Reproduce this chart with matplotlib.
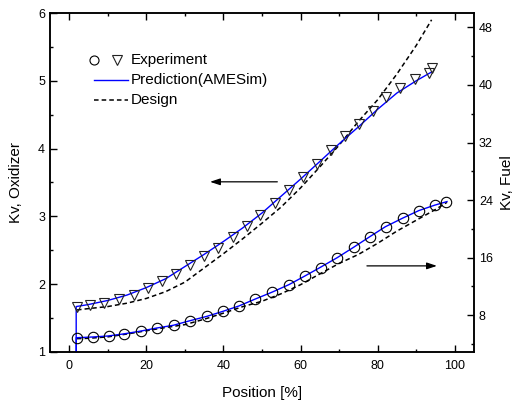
import matplotlib
matplotlib.use("Agg")
import matplotlib.pyplot as plt
from matplotlib.ticker import MultipleLocator

plt.rcParams['font.family'] = ['Liberation Sans', 'DejaVu Sans']

# measured Kv, oxidizer side (triangles, left axis)
ox_pos = [2.0, 5.4, 9.1, 12.8, 16.7, 20.5, 24.0, 27.7, 31.3, 35.0, 38.7, 42.4, 46.0,
          49.5, 53.3, 57.1, 60.7, 64.3, 67.8, 71.5, 75.1, 78.8, 82.3, 85.9, 89.6, 93.3, 94.0]
ox_kv = [1.67, 1.69, 1.72, 1.78, 1.84, 1.94, 2.05, 2.15, 2.28, 2.41, 2.54, 2.70, 2.86,
         3.02, 3.20, 3.39, 3.58, 3.77, 3.98, 4.18, 4.37, 4.56, 4.76, 4.89, 5.03, 5.12, 5.19]

# measured Kv, fuel side (circles, right axis)
fu_pos = [2.0, 6.1, 10.2, 14.3, 18.7, 22.7, 27.2, 31.3, 35.7, 39.8, 44.1, 48.2,
          52.6, 56.9, 61.1, 65.2, 69.5, 73.8, 78.0, 82.1, 86.5, 90.7, 94.8, 97.8]
fu_kv = [4.88, 4.98, 5.12, 5.40, 5.82, 6.23, 6.61, 7.20, 7.85, 8.57, 9.29, 10.20,
         11.21, 12.26, 13.42, 14.62, 16.01, 17.46, 18.93, 20.32, 21.49, 22.55, 23.34, 23.80]

# AMESim prediction
ox_pred_pos = [1.8, 1.8, 5, 10, 15, 20, 25, 30, 35, 40, 45, 50, 55, 60, 65, 70, 75, 80, 85, 90, 94]
ox_pred_kv = [0.0, 1.67, 1.70, 1.76, 1.84, 1.95, 2.08, 2.26, 2.44, 2.63, 2.83, 3.05,
              3.30, 3.55, 3.81, 4.07, 4.32, 4.58, 4.82, 5.00, 5.13]
fu_pred_pos = [1.8, 1.8, 6, 10, 14, 18.7, 22.7, 27, 31, 35.7, 40, 44, 48, 52.6, 57,
               61, 65, 69.5, 73.8, 78, 82, 86.5, 90.7, 94.8, 98]
fu_pred_kv = [0.0, 4.88, 4.98, 5.12, 5.40, 5.82, 6.23, 6.61, 7.20, 7.85, 8.57, 9.29, 10.20,
              11.21, 12.26, 13.42, 14.62, 16.00, 17.46, 18.93, 20.30, 21.50, 22.55, 23.30, 23.80]

# design curves
ox_des_pos = [2, 5, 10, 15, 20, 25, 30, 35, 40, 45, 50, 55, 60, 65, 70, 75, 80, 85, 90, 94]
ox_des_kv = [1.62, 1.64, 1.67, 1.72, 1.79, 1.89, 2.03, 2.24, 2.45, 2.67, 2.90, 3.14,
             3.42, 3.73, 4.05, 4.40, 4.72, 5.10, 5.52, 5.90]
fu_des_pos = [2, 5, 10, 15, 20, 25, 30, 35, 40, 45, 50, 55, 60, 65, 70, 75, 80, 85, 90, 95, 98]
fu_des_kv = [4.75, 4.80, 5.00, 5.40, 5.85, 6.30, 6.70, 7.45, 8.30, 9.20, 9.95, 11.00,
             12.25, 13.75, 15.20, 16.45, 18.00, 19.70, 21.20, 22.70, 23.70]

blue = '#0000ff'

fig = plt.figure(figsize=(5.19, 4.03), dpi=100)
ax = fig.add_axes([0.0963, 0.1266, 0.817, 0.8411])
ax2 = ax.twinx()

ax.plot(ox_des_pos, ox_des_kv, color='black', lw=1.1, ls=(0, (3, 2)))
ax.plot(ox_pred_pos, ox_pred_kv, color=blue, lw=1.0)
ax.plot(ox_pos, ox_kv, ls='none', marker='v', ms=7.2, mfc='none', mec='#222222', mew=0.8)

ax2.plot(fu_des_pos, fu_des_kv, color='black', lw=1.1, ls=(0, (3, 2)))
ax2.plot(fu_pred_pos, fu_pred_kv, color=blue, lw=1.0)
ax2.plot(fu_pos, fu_kv, ls='none', marker='o', ms=7.5, mfc='none', mec='black', mew=0.8)

ax.set_xlim(-5, 105)
ax.set_ylim(1, 6)
ax2.set_ylim(2.9, 50)

ax.xaxis.set_major_locator(MultipleLocator(20))
ax.xaxis.set_minor_locator(MultipleLocator(10))
ax.yaxis.set_major_locator(MultipleLocator(1))
ax.yaxis.set_minor_locator(MultipleLocator(0.5))
ax2.yaxis.set_major_locator(MultipleLocator(8))
ax2.yaxis.set_minor_locator(MultipleLocator(4))

ax.tick_params(which='both', direction='in', top=True, right=False, labelsize=9, width=1)
ax.tick_params(which='major', length=5)
ax.tick_params(which='minor', length=2.5)
ax.tick_params(axis='x', pad=6)
ax2.tick_params(which='both', direction='in', labelsize=9, width=1)
ax2.tick_params(which='major', length=5)
ax2.tick_params(which='minor', length=2.5)
for a in (ax, ax2):
    for s in a.spines.values():
        s.set_linewidth(1.1)

ax.set_xlabel('Position [%]', fontsize=11, labelpad=10)
ax.set_ylabel('Kv, Oxidizer', fontsize=11, labelpad=11)
ax2.set_ylabel('Kv, Fuel', fontsize=11, labelpad=5)

# arrows pointing at the axis each curve belongs to
ax.annotate('', xy=(35.8, 3.51), xytext=(54.7, 3.51),
            arrowprops=dict(arrowstyle='-|>,head_length=0.6,head_width=0.2',
                            color='black', lw=0.9, mutation_scale=10))
ax.annotate('', xy=(96.1, 2.27), xytext=(76.5, 2.27),
            arrowprops=dict(arrowstyle='-|>,head_length=0.6,head_width=0.2',
                            color='black', lw=0.9, mutation_scale=10))

# legend
tr = ax.transAxes
ax.plot([0.1045], [0.861], transform=tr, marker='o', ms=6.5, mfc='none', mec='black', mew=0.8)
ax.plot([0.157], [0.861], transform=tr, marker='v', ms=6.5, mfc='none', mec='#222222', mew=0.8)
ax.plot([0.1045, 0.1847], [0.802, 0.802], transform=tr, color=blue, lw=1.0)
ax.plot([0.1045, 0.1847], [0.743, 0.743], transform=tr, color='black', lw=1.1, ls=(0, (3, 2)))
ax.text(0.19, 0.861, 'Experiment', transform=tr, fontsize=11, va='center')
ax.text(0.19, 0.802, 'Prediction(AMESim)', transform=tr, fontsize=11, va='center')
ax.text(0.19, 0.743, 'Design', transform=tr, fontsize=11, va='center')

fig.savefig('out.png', dpi=100)
